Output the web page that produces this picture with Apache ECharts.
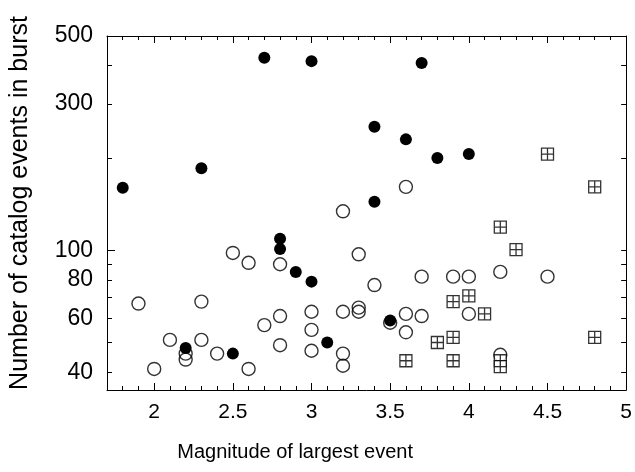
<!DOCTYPE html>
<html>
<head>
<meta charset="utf-8">
<script src="https://cdn.jsdelivr.net/npm/echarts@6/dist/echarts.min.js"></script>
<style>
  html, body { margin: 0; padding: 0; background: #fff; }
  #chart { width: 635px; height: 472px; }
</style>
</head>
<body>
<div id="chart"></div>
<script>
// bursts whose largest event is a mainshock (filled circles)
const filledMag = [1.8, 2.2, 2.3, 2.5, 2.7, 2.8, 2.8, 2.9, 3.0, 3.0, 3.1, 3.4, 3.4, 3.5, 3.6, 3.7, 3.8, 4.0]
const filledCount = [160, 48, 185, 46, 425, 109, 101, 85, 414, 79, 50, 253, 144, 59, 230, 408, 200, 206]

// open circles
const openMag = [3.2, 3.6, 1.9, 2.0, 2.1, 2.2, 2.2, 2.3, 2.3, 2.4, 2.5, 2.6, 2.6, 2.7, 2.8, 2.8, 2.8,
  3.0, 3.0, 3.0, 3.2, 3.2, 3.2, 3.3, 3.3, 3.3, 3.4, 3.5, 3.6, 3.6, 3.7, 3.7, 3.9, 4.0, 4.0, 4.2, 4.2, 4.5]
const openCount = [134, 161, 67, 41, 51, 46, 44, 68, 51, 46, 98, 91, 41, 57, 90, 61, 49,
  63, 55, 47, 63, 46, 42, 97, 65, 63, 77, 58, 62, 54, 82, 61, 82, 82, 62, 85, 45.6, 82]

// boxed crosses
const boxMag = [4.5, 4.8, 4.2, 4.3, 3.9, 4.0, 4.1, 3.8, 3.9, 3.6, 3.9, 4.2, 4.2, 4.8]
const boxCount = [206, 161, 119, 100.5, 68, 71, 62, 50, 52, 43.6, 43.6, 43.6, 41.7, 52]

// tick values
const xLabelTicks = [2, 2.5, 3, 3.5, 4, 4.5, 5]
const xMinorTicks = [1.8, 1.9, 2.1, 2.2, 2.3, 2.4, 2.6, 2.7, 2.8, 2.9, 3.1, 3.2, 3.3, 3.4, 3.6, 3.7, 3.8, 3.9,
  4.1, 4.2, 4.3, 4.4, 4.6, 4.7, 4.8, 4.9]
const yLabelTicks = [40, 60, 80, 100, 300, 500]
const yTicks = [40, 50, 60, 70, 80, 90, 100, 200, 300, 400, 500]
const yMajorTicks = [100]

const zip = (a, b) => a.map((v, i) => [v, b[i]])

const font = 'Liberation Sans, Arial, Helvetica, sans-serif'
const line = { show: true, lineStyle: { color: '#000', width: 1 } }

const xBase = { type: 'value', min: 1.7, max: 5, splitLine: { show: false } }
const yBase = { type: 'log', min: 35, max: 500, splitLine: { show: false } }

const tickAxis = (base, position, values, length, showLine) => ({
  ...base,
  position,
  axisLine: showLine ? line : { show: false },
  axisTick: { inside: true, length, customValues: values, lineStyle: { color: '#000' } },
  axisLabel: { show: false }
})

const chart = echarts.init(document.getElementById('chart'))

chart.setOption({
  animation: false,
  backgroundColor: '#fff',
  grid: { left: 107, right: 7, top: 36, bottom: 82 },
  xAxis: [
    {
      ...xBase,
      position: 'bottom',
      axisLine: line,
      axisTick: { inside: true, length: 7, customValues: xLabelTicks, lineStyle: { color: '#000' } },
      axisLabel: { customValues: xLabelTicks, margin: 12, color: '#000', fontSize: 21, fontFamily: font },
      name: 'Magnitude of largest event',
      nameLocation: 'middle',
      nameGap: 52,
      nameTextStyle: { color: '#000', fontSize: 20, fontFamily: font, padding: [0, 143, 0, 0] }
    },
    tickAxis(xBase, 'bottom', xMinorTicks, 4, false),
    tickAxis(xBase, 'top', xLabelTicks, 7, true),
    tickAxis(xBase, 'top', xMinorTicks, 4, false)
  ],
  yAxis: [
    {
      ...yBase,
      position: 'left',
      axisLine: line,
      axisTick: { inside: true, length: 5, customValues: yTicks, lineStyle: { color: '#000' } },
      axisLabel: { customValues: yLabelTicks, margin: 14, color: '#000', fontSize: 23, fontFamily: font, padding: [0, 0, 10, 0] },
      name: 'Number of catalog events in burst',
      nameLocation: 'middle',
      nameGap: 74,
      nameTextStyle: { color: '#000', fontSize: 25, fontFamily: font, padding: [0, 0, 0, 20] }
    },
    tickAxis(yBase, 'left', yMajorTicks, 8, false),
    tickAxis(yBase, 'right', yTicks, 5, true)
  ],
  series: [
    {
      type: 'scatter',
      data: zip(openMag, openCount),
      symbol: 'circle',
      symbolSize: 13,
      itemStyle: { color: 'rgba(0,0,0,0)', borderColor: '#000', borderWidth: 1.4 }
    },
    {
      type: 'scatter',
      data: zip(boxMag, boxCount),
      symbol: 'path://M0 0H12V12H0Z M6 0V12 M0 6H12',
      symbolSize: 12,
      itemStyle: { color: '#fff', borderColor: '#000', borderWidth: 1.3 }
    },
    {
      type: 'scatter',
      data: zip(filledMag, filledCount),
      symbol: 'circle',
      symbolSize: 12,
      itemStyle: { color: '#000', opacity: 1 }
    }
  ]
})
</script>
</body>
</html>
